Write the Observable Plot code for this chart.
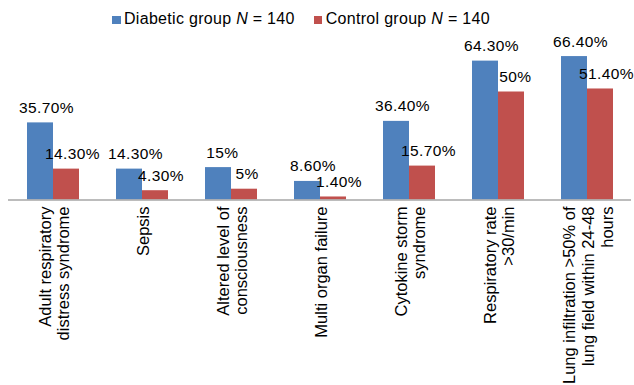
<!DOCTYPE html>
<html>
<head>
<meta charset="utf-8">
<script src="https://cdn.jsdelivr.net/npm/d3@7"></script>
<script src="https://cdn.jsdelivr.net/npm/@observablehq/plot@0.6"></script>
<style>
  body { margin: 0; background: #fff; }
  #chart { width: 634px; font-family: "Liberation Sans", Arial, sans-serif; }
  .legend { position: relative; height: 34px; font-size: 16px; letter-spacing: 0.3px; color: #000; }
  .legend .row { position: absolute; top: 10px; left: 112px; height: 18px; line-height: 18px; white-space: nowrap; }
  .legend .sw { display: inline-block; width: 8.5px; height: 8.5px; margin-right: 3.5px; vertical-align: 0px; }
  .legend .item + .item { margin-left: 19px; }
</style>
</head>
<body>
<div id="chart"></div>
<script>
// Complications by group (% of patients)
const categories = [
  "Adult respiratory\ndistress syndrome",
  "Sepsis",
  "Altered level of\nconsciousness",
  "Multi organ failure",
  "Cytokine storm\nsyndrome",
  "Respiratory rate\n>30/min",
  "Lung infiltration >50% of\nlung field within 24-48\nhours"
];
const groups = ["Diabetic group", "Control group"];
const diabetic = [35.7, 14.3, 15, 8.6, 36.4, 64.3, 66.4];
const control = [14.3, 4.3, 5, 1.4, 15.7, 50, 51.4];
const groupColors = ["#4F81BD", "#C0504D"];

const fmt = v => (Number.isInteger(v) ? v : v.toFixed(2)) + "%";

const rows = categories.flatMap((cat, i) => [
  {cat, group: groups[0], value: diabetic[i]},
  {cat, group: groups[1], value: control[i]}
]).map(d => ({...d, label: fmt(d.value)}));

// value labels sit slightly right of the bar centre, more so for longer labels
const shiftFor = s => ({2: 2.5, 3: 3.75, 5: 5.5, 6: 6})[s.length] ?? 5;
const shifts = Array.from(new Set(rows.map(d => shiftFor(d.label))));

const labelMarks = shifts.map(s => Plot.text(rows, {
  filter: d => shiftFor(d.label) === s,
  fx: "cat",
  x: "group",
  y: "value",
  text: "label",
  dx: s,
  dy: -10,
  lineAnchor: "bottom",
  fontSize: 15.5,
  fill: "black"
}));

const plot = Plot.plot({
  width: 634,
  height: 351,
  marginTop: 14.3,
  marginBottom: 185.5,
  marginLeft: 8,
  marginRight: 3,
  style: {fontFamily: "'Liberation Sans', Arial, sans-serif", background: "white"},
  fx: {domain: categories, paddingInner: 0, paddingOuter: 0, axis: null, label: null},
  x: {domain: groups, paddingInner: 0, paddingOuter: 0.71, axis: null, label: null},
  y: {domain: [0, 70], axis: null, label: null},
  color: {domain: groups, range: groupColors},
  marks: [
    Plot.barY(rows, {fx: "cat", x: "group", y: "value", fill: "group", inset: 0}),
    Plot.ruleY([0], {stroke: "#a6a6a6", strokeWidth: 1.5}),
    ...labelMarks,
    Plot.text(categories, {
      fx: d => d,
      text: d => d,
      frameAnchor: "bottom",
      rotate: -90,
      textAnchor: "end",
      lineAnchor: "middle",
      lineHeight: 1.13,
      dx: 1,
      dy: 6.5,
      fontSize: 16.5,
      fill: "black"
    })
  ]
});

// slightly wider tracking on the percentage value labels
d3.select(plot).selectAll("text")
  .filter(function() { return /^\d+(\.\d+)?%$/.test(this.textContent); })
  .style("letter-spacing", "0.4px");

const legend = document.createElement("div");
legend.className = "legend";
legend.innerHTML = `<div class="row">${groups.map((g, i) =>
  `<span class="item"><span class="sw" style="background:${groupColors[i]}"></span>${g} <i>N</i> = 140</span>`
).join("")}</div>`;

const chart = document.getElementById("chart");
chart.appendChild(legend);
chart.appendChild(plot);
</script>
</body>
</html>
